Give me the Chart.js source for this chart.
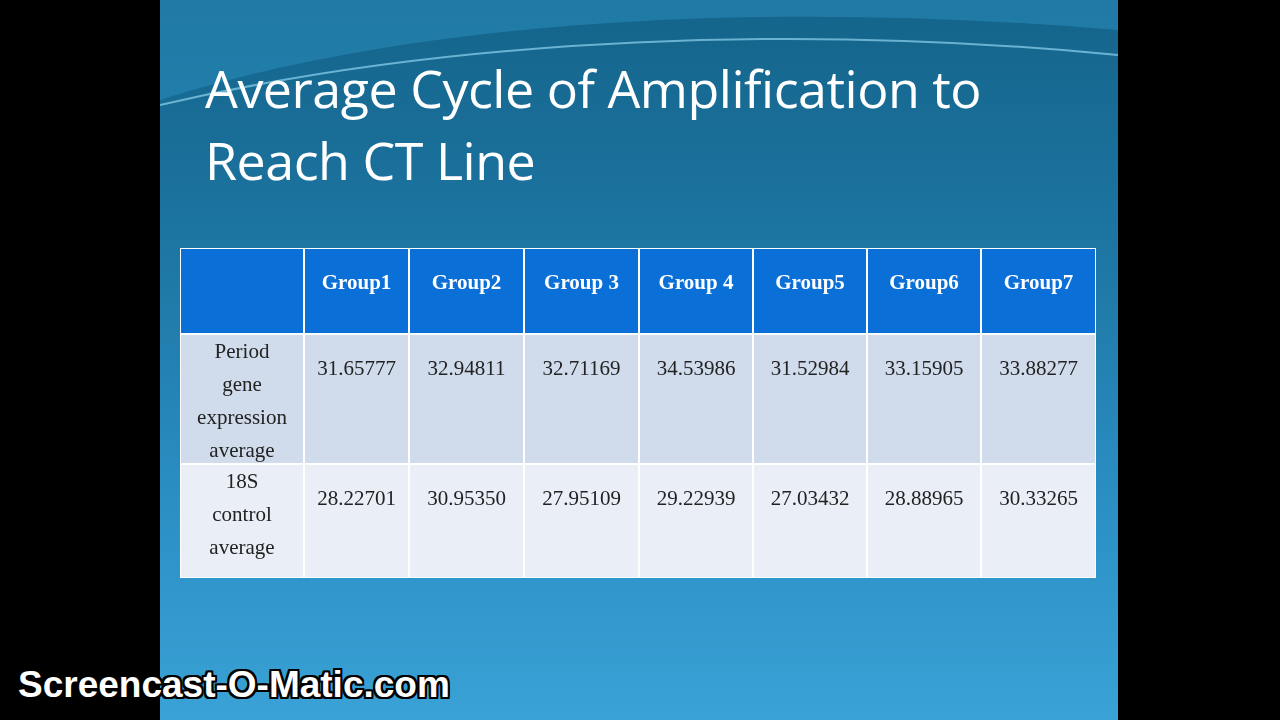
<!DOCTYPE html>
<html><head><meta charset="utf-8">
<script src="https://cdn.jsdelivr.net/npm/chart.js@4"></script>
<style>
html,body{margin:0;padding:0;width:1280px;height:720px;background:#000;overflow:hidden;font-family:"Open Sans",sans-serif}
#slide{position:absolute;left:160px;top:0;width:958px;height:720px;
background:linear-gradient(180deg,#14648a 0%,#1d76a3 35%,#2b8fc4 70%,#3aa2d6 100%);overflow:hidden}
#swoosh{position:absolute;left:0;top:0;width:958px;height:120px}
#title{position:absolute;left:45px;top:52px;color:#fff;font-size:52px;line-height:72px;font-family:"Open Sans",sans-serif;letter-spacing:-0.5px}
#wrap{position:absolute;left:180px;top:248px;width:916px;height:330px}
#wm{position:absolute;left:18px;top:664px;font:bold 37px "Liberation Sans",Arial,sans-serif;color:#fff;
text-shadow:-2px -2px 0 #000,2px -2px 0 #000,-2px 2px 0 #000,2px 2px 0 #000,0 2px 0 #000,2px 0 0 #000,-2px 0 0 #000,0 -2px 0 #000}
</style></head><body>
<div id="slide">
<svg id="swoosh" viewBox="0 0 958 120"><path d="M0 100 C250 20 600 0 958 30 L958 0 L0 0 Z" fill="#2a8cbc" opacity="0.55"/><path d="M0 105 C300 35 650 25 958 55" stroke="#8fd3ee" stroke-width="2" fill="none" opacity="0.7"/></svg>
<div id="title">Average Cycle of Amplification to<br>Reach CT Line</div>
</div>
<div id="wrap"><canvas id="c"></canvas></div>
<div id="wm">Screencast-O-Matic.com</div>
<script>
const columns=["", "Group1","Group2","Group 3","Group 4","Group5","Group6","Group7"];
const rows=["header","period","control"];
const rowLabels={period:"Period\ngene\nexpression\naverage",control:"18S\ncontrol\naverage"};
const periodValues=["31.65777","32.94811","32.71169","34.53986","31.52984","33.15905","33.88277"];
const controlValues=["28.22701","30.95350","27.95109","29.22939","27.03432","28.88965","30.33265"];
const rowValues={period:periodValues,control:controlValues};

const tablePlugin={id:"table",afterDraw(chart,args,opts){
 const ctx=chart.ctx,xs=chart.scales.x,ys=chart.scales.y;
 const cw=opts.colWidths, rh=opts.rowHeights;
 const totW=cw.reduce((a,b)=>a+b),totH=rh.reduce((a,b)=>a+b);
 const sx=xs.width/totW, sy=ys.height/totH;
 let yy=ys.top;
 rows.forEach((r,ri)=>{
  const h=rh[ri]*sy; let xx=xs.left;
  columns.forEach((c,ci)=>{
   const w=cw[ci]*sx, xc=xx+w/2;
   ctx.fillStyle=r==="header"?"#0b6fd8":(r==="period"?"#d0dbeb":"#e9eef7");
   ctx.fillRect(xx,yy,w,h);
   ctx.strokeStyle="#fff";ctx.lineWidth=2;ctx.strokeRect(xx,yy,w,h);
   ctx.textAlign="center";ctx.textBaseline="middle";
   if(r==="header"){
    ctx.fillStyle="#fff";ctx.font="bold 21px 'Liberation Serif',serif";
    ctx.fillText(c,xc,yy+36);
   }else{
    ctx.fillStyle="#222";ctx.font="21px 'Liberation Serif',serif";
    if(ci===0){
     rowLabels[r].split("\n").forEach((l,li)=>ctx.fillText(l,xc,yy+18+li*33));
    }else ctx.fillText(rowValues[r][ci-1],xc,yy+35);
   }
   xx+=w;
  });
  yy+=h;
 });
}};
new Chart(document.getElementById("c"),{
 type:"scatter",
 data:{datasets:[{data:[],pointRadius:0}]},
 options:{responsive:true,maintainAspectRatio:false,animation:false,
  layout:{padding:0},
  plugins:{legend:{display:false},tooltip:{enabled:false},
   table:{colWidths:[124,105,115,115,114,114,114,115],rowHeights:[86,130,114]}},
  scales:{
   x:{type:"linear",min:0,max:1,display:false},
   y:{type:"linear",min:0,max:1,display:false}
  }},
 plugins:[tablePlugin]
});
</script>
</body></html>
